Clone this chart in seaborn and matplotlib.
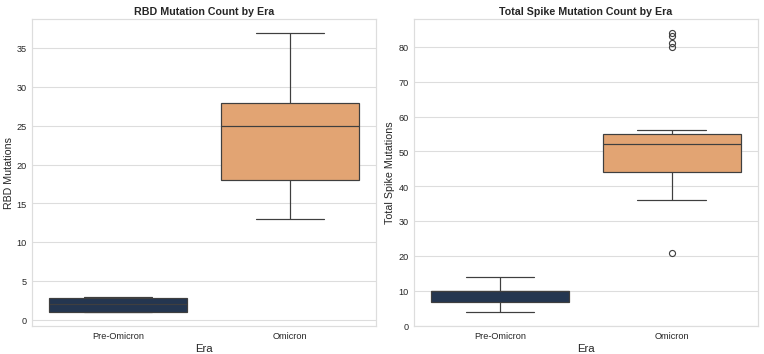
import pandas as pd
import numpy as np
import matplotlib
matplotlib.use("Agg")
import matplotlib.pyplot as plt
import seaborn as sns

sns.set_style("whitegrid")
plt.rcParams['font.family'] = ['Liberation Sans', 'DejaVu Sans']

eras = ["Pre-Omicron", "Omicron"]
rbd_pre = [1, 1, 1, 1, 2, 2, 2, 3, 3, 3]
rbd_omicron = [13, 15, 18, 22, 25, 26, 28, 32, 37]
spike_pre = [4, 5, 6, 9, 10, 10, 10, 10, 12, 14]
spike_omicron = [21, 36, 39, 41, 43, 44, 46, 48, 50, 51, 52,
                 53, 53, 54, 55, 55, 56, 80, 81, 83, 84]

palette = {"Pre-Omicron": "#1d3557", "Omicron": "#f4a261"}

rbd_df = pd.DataFrame({
    "Era": ["Pre-Omicron"] * len(rbd_pre) + ["Omicron"] * len(rbd_omicron),
    "RBD Mutations": rbd_pre + rbd_omicron,
})
spike_df = pd.DataFrame({
    "Era": ["Pre-Omicron"] * len(spike_pre) + ["Omicron"] * len(spike_omicron),
    "Total Spike Mutations": spike_pre + spike_omicron,
})

fig, axes = plt.subplots(1, 2, figsize=(14, 6.5), dpi=764 / 14)

box_kw = dict(hue="Era", order=eras, palette=palette, legend=False,
              linewidth=1.6, linecolor="#3f3f3f",
              flierprops={"markersize": 8, "markeredgewidth": 1.5})

sns.boxplot(data=rbd_df, x="Era", y="RBD Mutations", ax=axes[0], **box_kw)
axes[0].set_title("RBD Mutation Count by Era", fontsize=14, fontweight="bold")

sns.boxplot(data=spike_df, x="Era", y="Total Spike Mutations", ax=axes[1], **box_kw)
axes[1].set_title("Total Spike Mutation Count by Era", fontsize=14, fontweight="bold")

for ax in axes:
    ax.set_xlabel("Era", fontsize=15)
    ax.set_ylabel(ax.get_ylabel(), fontsize=14)
    ax.tick_params(labelsize=12)
    for s in ax.spines.values():
        s.set_linewidth(1.6)
        s.set_color("#dddddd")
    ax.xaxis.grid(False)
    ax.yaxis.grid(True, linewidth=1.4, color="#dddddd")

plt.subplots_adjust(left=0.042, right=0.992, top=0.945, bottom=0.079, wspace=0.11)
plt.savefig("out.png", dpi=764 / 14)
